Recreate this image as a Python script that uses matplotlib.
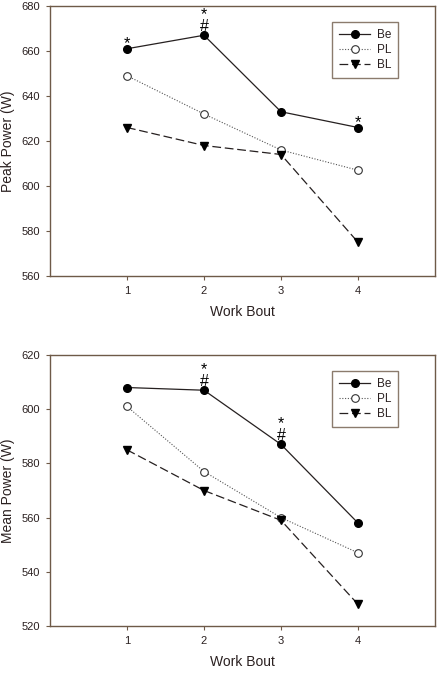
import matplotlib
matplotlib.use("Agg")
import matplotlib.pyplot as plt

plt.rcParams['font.family'] = ['Liberation Sans', 'DejaVu Sans']

bouts = [1, 2, 3, 4]
xticklabels = ["1", "2", "3", "4"]

peak_be = [661, 667, 633, 626]
peak_pl = [649, 632, 616, 607]
peak_bl = [626, 618, 614, 575]
peak_yticks = [560, 580, 600, 620, 640, 660, 680]

mean_be = [608, 607, 587, 558]
mean_pl = [601, 577, 560, 547]
mean_bl = [585, 570, 559, 528]
mean_yticks = [520, 540, 560, 580, 600, 620]

# significance markers on the Be series: (bout index, label)
peak_marks = [(0, "*"), (1, "*\n#"), (3, "*")]
mean_marks = [(1, "*\n#"), (2, "*\n#")]

spine_col = '#6e5a48'
line_col = '#262020'
text_col = '#2a2020'

fig = plt.figure(figsize=(4.4, 6.75), dpi=100)


def panel(rect, be, pl, bl, yticks, ylabel, marks):
    ax = fig.add_axes(rect)
    ax.plot(bouts, be, color=line_col, lw=0.9, ls='-', marker='o', ms=5.5,
            mfc='black', mec='black', label='Be', zorder=3)
    ax.plot(bouts, pl, color='#555555', lw=0.8, ls=(0, (1, 1.5)), marker='o', ms=5.5,
            mfc='white', mec='#333333', mew=0.8, label='PL', zorder=3)
    ax.plot(bouts, bl, color=line_col, lw=0.9, ls=(0, (7, 3)), marker='v', ms=5.5,
            mfc='black', mec='black', label='BL', zorder=3)
    ax.set_xlim(0, 5)
    ax.set_ylim(yticks[0], yticks[-1])
    ax.set_xticks(bouts)
    ax.set_xticklabels(xticklabels)
    ax.set_yticks(yticks)
    for s in ax.spines.values():
        s.set_color(spine_col)
        s.set_linewidth(1.0)
    ax.tick_params(direction='out', length=3, width=0.8, color=spine_col,
                   labelsize=8, labelcolor=text_col, pad=4)
    ax.set_xlabel('Work Bout', fontsize=10, color=text_col, labelpad=7)
    ax.set_ylabel(ylabel, fontsize=10, color=text_col)
    ax.yaxis.set_label_coords(-0.092, 0.5)
    for i, lab in marks:
        if '\n' in lab:
            ax.annotate(lab, (bouts[i], be[i]), xytext=(0, 1.0), textcoords='offset points',
                        ha='center', va='bottom', fontsize=11.5, color='black',
                        linespacing=0.71)
        else:
            ax.annotate(lab, (bouts[i], be[i]), xytext=(0, 0.5), textcoords='offset points',
                        ha='center', va='baseline', fontsize=12, color='black')
    leg = ax.legend(loc='upper right', bbox_to_anchor=(0.905, 0.94), fontsize=8.5,
                    frameon=True, fancybox=False, handlelength=2.6, handletextpad=0.6,
                    borderpad=0.6, labelspacing=0.25, borderaxespad=0)
    leg.get_frame().set_edgecolor(spine_col)
    leg.get_frame().set_linewidth(1.0)
    for t in leg.get_texts():
        t.set_color(text_col)
    return ax

panel([50/440, 1 - 276/675, 385/440, 270/675], peak_be, peak_pl, peak_bl,
      peak_yticks, 'Peak Power (W)', peak_marks)
panel([50/440, 1 - 626/675, 385/440, 271/675], mean_be, mean_pl, mean_bl,
      mean_yticks, 'Mean Power (W)', mean_marks)

fig.savefig('out.png', dpi=100)
